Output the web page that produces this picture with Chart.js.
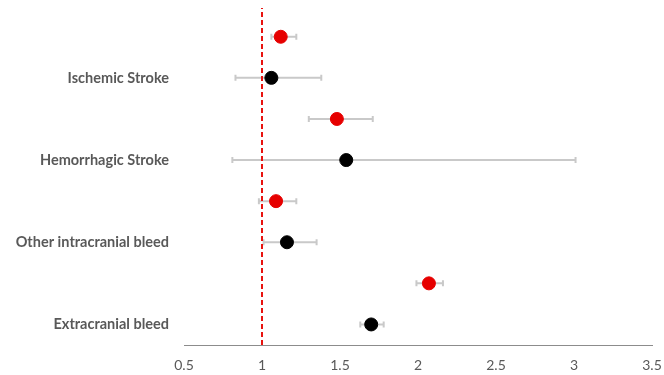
<!DOCTYPE html>
<html>
<head>
<meta charset="utf-8">
<script src="https://cdn.jsdelivr.net/npm/chart.js@4/dist/chart.umd.min.js"></script>
<style>
  html, body { margin: 0; padding: 0; background: #fff; }
  #wrap { width: 664px; height: 375px; }
</style>
</head>
<body>
<div id="wrap"><canvas id="forest"></canvas></div>
<script>
// Outcome labels, bottom to top
const outcomes = ['Extracranial bleed', 'Other intracranial bleed', 'Hemorrhagic Stroke', 'Ischemic Stroke'];

// Black series (lower row of each outcome)
const blackEst = [1.70, 1.16, 1.54, 1.06];
const blackLow = [1.63, 1.01, 0.81, 0.83];
const blackHigh = [1.78, 1.35, 3.01, 1.38];

// Red series (upper row of each outcome)
const redEst = [2.07, 1.09, 1.48, 1.12];
const redLow = [1.99, 0.98, 1.30, 1.06];
const redHigh = [2.16, 1.22, 1.71, 1.22];

const xTicks = [0.5, 1, 1.5, 2, 2.5, 3, 3.5];
const refValue = 1;

// row positions on the vertical scale
const blackRows = outcomes.map((_, i) => i * 2 + 0.5);
const redRows = outcomes.map((_, i) => i * 2 + 1.5);

const blackPts = blackEst.map((v, i) => ({ x: v, y: blackRows[i], lo: blackLow[i], hi: blackHigh[i] }));
const redPts = redEst.map((v, i) => ({ x: v, y: redRows[i], lo: redLow[i], hi: redHigh[i] }));

// draws the gray confidence interval whiskers behind the points
const errorBars = {
    id: 'errorBars',
    beforeDatasetsDraw(chart) {
        const ctx = chart.ctx;
        const xs = chart.scales.x, ys = chart.scales.y;
        ctx.save();
        ctx.strokeStyle = '#c9c9c9';
        ctx.lineWidth = 2;
        [blackPts, redPts].forEach(set => {
            set.forEach(p => {
                const y = ys.getPixelForValue(p.y);
                const x1 = xs.getPixelForValue(p.lo);
                const x2 = xs.getPixelForValue(p.hi);
                ctx.beginPath();
                ctx.moveTo(x1, y); ctx.lineTo(x2, y);
                ctx.moveTo(x1, y - 3); ctx.lineTo(x1, y + 3);
                ctx.moveTo(x2, y - 3); ctx.lineTo(x2, y + 3);
                ctx.stroke();
            });
        });
        ctx.restore();
    }
};

const ctx = document.getElementById('forest').getContext('2d');
new Chart(ctx, {
    type: 'scatter',
    data: {
        datasets: [
            {
                label: 'ref',
                data: [{ x: refValue, y: 0 }, { x: refValue, y: 8.2 }],
                showLine: true,
                borderColor: '#e8130f',
                borderWidth: 2,
                borderDash: [5, 3],
                pointRadius: 0,
                order: 3
            },
            {
                label: 'black',
                data: blackPts,
                backgroundColor: '#000000',
                borderColor: '#000000',
                pointRadius: 6.5,
                order: 2
            },
            {
                label: 'red',
                data: redPts,
                backgroundColor: '#e60000',
                borderColor: '#e60000',
                pointRadius: 6.5,
                order: 1
            }
        ]
    },
    options: {
        responsive: true,
        maintainAspectRatio: false,
        animation: false,
        layout: { autoPadding: false, padding: { top: 8, right: 12, bottom: 0, left: 0 } },
        plugins: {
            legend: { display: false },
            tooltip: { enabled: false }
        },
        scales: {
            x: {
                type: 'linear',
                min: 0.5,
                max: 3.5,
                afterBuildTicks: s => { s.ticks = xTicks.map(v => ({ value: v })); },
                afterFit: s => { s.height = 30; s.paddingRight = 0; s.paddingLeft = 0; },
                grid: { display: false, drawTicks: false },
                border: { display: true, color: '#8c8c8c', width: 1 },
                ticks: {
                    padding: 12,
                    color: '#595959',
                    font: { family: 'Lato', size: 14 },
                    callback: v => String(v)
                }
            },
            y: {
                type: 'linear',
                min: 0,
                max: 8.2,
                afterBuildTicks: s => { s.ticks = blackRows.map(v => ({ value: v })); },
                afterFit: s => { s.width = 184; s.paddingTop = 0; s.paddingBottom = 0; },
                grid: { display: false, drawTicks: false },
                border: { display: false },
                ticks: {
                    padding: 15,
                    color: '#595959',
                    font: { family: 'Lato', size: 14.5, weight: 'bold' },
                    callback: v => outcomes[blackRows.indexOf(v)]
                }
            }
        }
    },
    plugins: [errorBars]
});
</script>
</body>
</html>
